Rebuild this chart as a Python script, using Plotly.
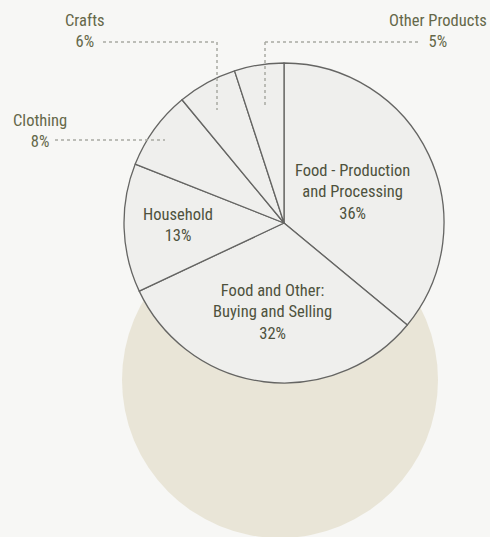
import plotly.graph_objects as go

categories = ["Food - Production<br>and Processing", "Food and Other:<br>Buying and Selling",
              "Household", "Clothing", "Crafts", "Other Products"]
short_names = ["Food - Production and Processing", "Food and Other: Buying and Selling",
               "Household", "Clothing", "Crafts", "Other Products"]
values = [36, 32, 13, 8, 6, 5]

W, H = 490, 537
FONT = "Roboto Condensed, sans-serif"
INNER_COLOR = "#4e523d"
OUTER_COLOR = "#656849"
LEADER = "#a9aaa2"

def px(x):
    return x / W

def py(y):
    return 1 - y / H

fig = go.Figure()

fig.add_trace(go.Pie(
    labels=short_names,
    values=values,
    sort=False,
    direction="clockwise",
    rotation=0,
    textinfo="none",
    hoverinfo="label+percent",
    marker=dict(colors=["#efefed"] * len(values), line=dict(color="#656563", width=1.3)),
    domain=dict(x=[px(124), px(444)], y=[py(383), py(63)]),
    showlegend=False,
))

# beige circle behind
fig.add_shape(type="circle", xref="paper", yref="paper",
              x0=px(122), x1=px(438), y0=py(538), y1=py(222),
              fillcolor="#e9e5d7", line=dict(width=0), layer="below")

# leader lines (dotted)
leaders = [
    (103, 42, 217, 42), (217, 42, 217, 110),
    (265, 42, 420, 42), (265, 42, 265, 108),
    (55, 140, 165, 140),
]
for x0, y0, x1, y1 in leaders:
    fig.add_shape(type="line", xref="paper", yref="paper",
                  x0=px(x0), y0=py(y0), x1=px(x1), y1=py(y1),
                  line=dict(color=LEADER, width=1.5, dash="dot"), layer="above")

# inside labels
inside = [
    (0, 352, 192),
    (1, 272, 312),
    (2, 178, 225),
]
for i, x, y in inside:
    fig.add_annotation(x=px(x), y=py(y), xref="paper", yref="paper",
                       text=f"{categories[i]}<br>{values[i]}%", showarrow=False,
                       align="center", xanchor="center", yanchor="middle",
                       font=dict(family=FONT, size=16.5, color=INNER_COLOR))

# outside labels
outside = [
    (3, 40, 131),
    (4, 85, 31),
    (5, 438, 31),
]
for i, x, y in outside:
    fig.add_annotation(x=px(x), y=py(y), xref="paper", yref="paper",
                       text=f"{categories[i]}<br>{values[i]}%", showarrow=False,
                       align="center", xanchor="center", yanchor="middle",
                       font=dict(family=FONT, size=16.5, color=OUTER_COLOR))

fig.update_layout(
    width=W, height=H,
    margin=dict(l=0, r=0, t=0, b=0),
    paper_bgcolor="#f7f7f5",
    plot_bgcolor="#f7f7f5",
)

fig.write_html("out.html")
